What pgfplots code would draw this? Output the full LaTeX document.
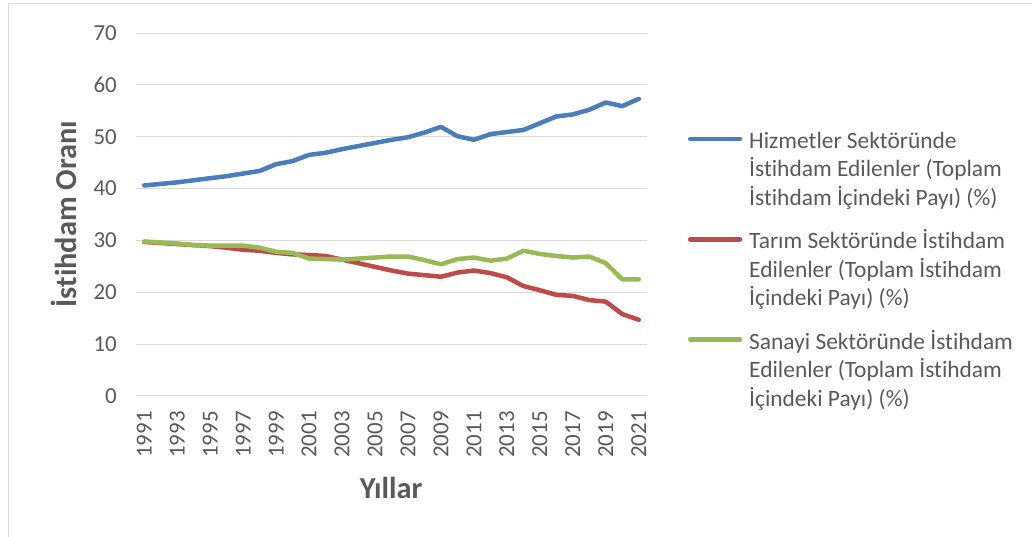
\documentclass[border=0pt]{standalone}
\usepackage{pgfplots}
\pgfplotsset{compat=1.18}
\usepackage{fontspec}
\setmainfont{Carlito}[Ligatures=NoCommon]
\definecolor{gridgray}{HTML}{D9D9D9}
\definecolor{txtgray}{HTML}{595959}
\definecolor{sblue}{HTML}{4A7EBB}
\definecolor{sred}{HTML}{BE4B48}
\definecolor{sgreen}{HTML}{98B954}
\begin{document}
\begin{tikzpicture}
\useasboundingbox (0,0) rectangle (1032bp,537bp);
\draw[gridgray, line width=1bp] (8bp,-20bp) -- (8bp,533bp) -- (1050bp,533bp);
\begin{axis}[
  at={(136bp,141bp)}, anchor=south west,
  scale only axis, width=511bp, height=363bp,
  xmin=1990.5, xmax=2021.5, ymin=0, ymax=70,
  xtick={1991,1993,...,2021}, ytick={0,10,...,70},
  axis line style={draw=none},
  major tick length=0pt,
  ymajorgrids, grid style={gridgray, line width=1bp},
  /pgf/number format/assume math mode=true,
  /pgf/number format/1000 sep={},
  xticklabel style={font=\fontsize{23}{27}\selectfont, text=txtgray, rotate=90, anchor=east, inner sep=0pt, xshift=-15bp},
  yticklabel style={font=\fontsize{23}{27}\selectfont, text=txtgray, anchor=east, inner sep=0pt, xshift=-19bp},
  clip=false,
  legend style={at={(axis description cs:1.0802,0.742)}, anchor=north west,
    draw=none, fill=none, inner sep=0pt, outer sep=0pt,
    row sep=75bp, column sep=5bp,
    cells={anchor=base west, inner sep=0pt},
    font=\fontsize{23.5}{28.5}\selectfont, text=txtgray},
  legend image code/.code={\draw[#1, line width=4.5bp, line cap=round] (2.25bp,9.5bp) -- (52bp,9.5bp);},
  every axis plot/.append style={line width=4.5bp, line join=round, line cap=round},
]
\addplot[sblue, mark=none] coordinates {
(1991,40.6) (1992,40.9) (1993,41.2) (1994,41.6) (1995,42.0) (1996,42.4) (1997,42.9) (1998,43.4)
(1999,44.7) (2000,45.3) (2001,46.5) (2002,46.9) (2003,47.6) (2004,48.2) (2005,48.8) (2006,49.4)
(2007,49.9) (2008,50.8) (2009,51.9) (2010,50.1) (2011,49.4) (2012,50.5) (2013,50.9) (2014,51.3)
(2015,52.6) (2016,53.9) (2017,54.3) (2018,55.2) (2019,56.6) (2020,55.9) (2021,57.3)};
\addlegendentry{\parbox[t]{285bp}{\strut Hizmetler Sektöründe\\\strut İstihdam Edilenler (Toplam\\\strut İstihdam İçindeki Payı) (\%)}}
\addplot[sred, mark=none] coordinates {
(1991,29.7) (1992,29.5) (1993,29.3) (1994,29.1) (1995,28.9) (1996,28.6) (1997,28.2) (1998,28.0)
(1999,27.6) (2000,27.3) (2001,27.2) (2002,27.0) (2003,26.3) (2004,25.6) (2005,24.9) (2006,24.2)
(2007,23.6) (2008,23.3) (2009,23.0) (2010,23.8) (2011,24.2) (2012,23.7) (2013,22.9) (2014,21.2)
(2015,20.4) (2016,19.5) (2017,19.3) (2018,18.5) (2019,18.2) (2020,15.8) (2021,14.7)};
\addlegendentry{\parbox[t]{285bp}{\strut Tarım Sektöründe İstihdam\\\strut Edilenler (Toplam İstihdam\\\strut İçindeki Payı) (\%)}}
\addplot[sgreen, mark=none] coordinates {
(1991,29.8) (1992,29.6) (1993,29.4) (1994,29.1) (1995,29.0) (1996,29.0) (1997,29.0) (1998,28.6)
(1999,27.8) (2000,27.6) (2001,26.5) (2002,26.4) (2003,26.3) (2004,26.5) (2005,26.7) (2006,26.9)
(2007,26.9) (2008,26.2) (2009,25.4) (2010,26.4) (2011,26.7) (2012,26.1) (2013,26.5) (2014,28.0)
(2015,27.4) (2016,27.0) (2017,26.7) (2018,26.9) (2019,25.6) (2020,22.5) (2021,22.5)};
\addlegendentry{\parbox[t]{285bp}{\strut Sanayi Sektöründe İstihdam\\\strut Edilenler (Toplam İstihdam\\\strut İçindeki Payı) (\%)}}
\end{axis}
\node[rotate=90, anchor=base, font=\bfseries\fontsize{30.5}{36}\selectfont, text=txtgray] at (76bp,323bp) {İstihdam Oranı};
\node[anchor=base, font=\bfseries\fontsize{30.5}{36}\selectfont, text=txtgray] at (391bp,39bp) {Yıllar};
\end{tikzpicture}
\end{document}
